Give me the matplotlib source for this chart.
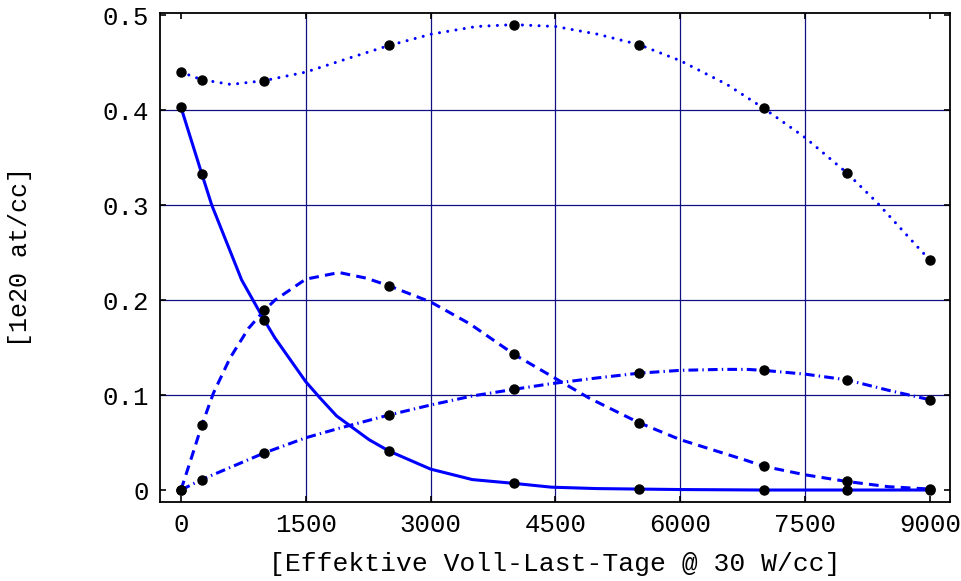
import matplotlib
matplotlib.use("Agg")
import matplotlib.pyplot as plt

plt.rcParams["font.family"] = ["Liberation Mono", "DejaVu Sans Mono"]
plt.rcParams["lines.scale_dashes"] = False

# sample points (black dots)
x_pts = [0, 250, 1000, 2500, 4000, 5500, 7000, 8000, 9000]
dotted_pts = [0.440, 0.432, 0.431, 0.468, 0.490, 0.469, 0.402, 0.334, 0.242]
solid_pts = [0.403, 0.333, 0.179, 0.041, 0.007, 0.001, 0.0, 0.0, 0.0]
dashed_pts = [0.0, 0.068, 0.189, 0.215, 0.143, 0.071, 0.025, 0.009, 0.001]
dashdot_pts = [0.0, 0.011, 0.039, 0.079, 0.106, 0.123, 0.126, 0.116, 0.095]

# curves
solid_x = [0, 250, 370, 730, 1000, 1130, 1500, 1670, 1870, 2260, 2500, 3000, 3500, 4000, 4450,
           5000, 5500, 6000, 7000, 8000, 9000]
solid_y = [0.403, 0.333, 0.300, 0.221, 0.179, 0.160, 0.114, 0.097, 0.078, 0.053, 0.041, 0.022,
           0.011, 0.007, 0.003, 0.0015, 0.001, 0.0005, 0.0, 0.0, 0.0]

dashed_x = [0, 130, 250, 390, 590, 810, 1000, 1130, 1500, 1900, 2230, 2500, 3000, 3470, 4000,
            4450, 4900, 5500, 6000, 6800, 7000, 7500, 8000, 8500, 9000]
dashed_y = [0.0, 0.035, 0.068, 0.102, 0.139, 0.170, 0.189, 0.200, 0.222, 0.229, 0.223, 0.215,
            0.198, 0.175, 0.143, 0.120, 0.097, 0.071, 0.053, 0.031, 0.025, 0.016, 0.009, 0.0035, 0.001]

dashdot_x = [0, 250, 1000, 1500, 1900, 2500, 3000, 3500, 4000, 4450, 5000, 5500, 6000, 6500,
             6800, 7000, 7500, 8000, 8500, 9000]
dashdot_y = [0.0, 0.011, 0.039, 0.055, 0.065, 0.079, 0.0895, 0.099, 0.106, 0.112, 0.118, 0.123,
             0.126, 0.127, 0.127, 0.126, 0.122, 0.116, 0.105, 0.095]

dotted_x = [0, 250, 600, 1000, 1500, 2030, 2500, 3010, 3550, 4000, 4500, 5000, 5500, 6000,
            6560, 7000, 7500, 8000, 8360, 8850, 9000]
dotted_y = [0.440, 0.432, 0.427, 0.431, 0.440, 0.455, 0.468, 0.480, 0.488, 0.490, 0.488, 0.480,
            0.469, 0.452, 0.427, 0.402, 0.371, 0.334, 0.303, 0.256, 0.242]

x_ticks = [0, 1500, 3000, 4500, 6000, 7500, 9000]
y_ticks = [0, 0.1, 0.2, 0.3, 0.4, 0.5]
y_ticklabels = ["0", "0.1", "0.2", "0.3", "0.4", "0.5"]

fig = plt.figure(figsize=(9.62, 5.81), dpi=100)
ax = fig.add_axes([0.1663, 0.1360, 0.8212, 0.8416])

# grid lines
for gx in x_ticks[1:-1]:
    ax.axvline(gx, color="#101080", lw=0.9, zorder=1)
for gy in y_ticks[1:-1]:
    ax.axhline(gy, color="#101080", lw=0.9, zorder=1)

blue = "#0000ff"
ax.plot(solid_x, solid_y, color=blue, lw=2.2, zorder=2)
ax.plot(dashed_x, dashed_y, color=blue, lw=2.2, dashes=(7, 4.5), zorder=2)
ax.plot(dashdot_x, dashdot_y, color=blue, lw=2.2, dashes=(7, 3, 1, 3), zorder=2)
ax.plot(dotted_x, dotted_y, color=blue, lw=2.2, dashes=(0.01, 6), dash_capstyle="round", zorder=2)

for ys in [dotted_pts, solid_pts, dashed_pts, dashdot_pts]:
    ax.plot(x_pts, ys, "o", color="black", ms=6.5, zorder=3)

ax.set_xlim(-252, 9240)
ax.set_ylim(-0.0126, 0.5022)
ax.set_xticks(x_ticks)
ax.set_yticks(y_ticks)
ax.set_yticklabels(y_ticklabels)
ax.tick_params(direction="in", length=4, width=1.2, top=True, right=True, labelsize=18.5, pad=8)
for s in ax.spines.values():
    s.set_linewidth(1.3)

ax.set_xlabel("[Effektive Voll-Last-Tage @ 30 W/cc]", fontsize=19, labelpad=11)
ax.set_ylabel("[1e20 at/cc]", fontsize=18, labelpad=51)

plt.savefig("out.png", dpi=100)
